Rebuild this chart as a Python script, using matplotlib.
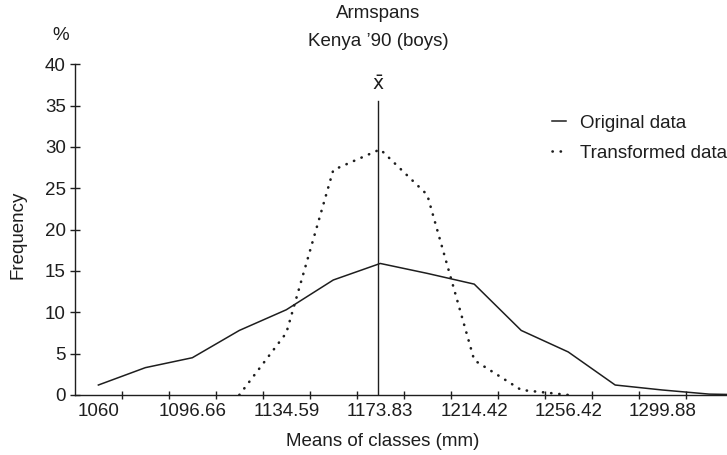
import numpy as np
import matplotlib
matplotlib.use("Agg")
from matplotlib import pyplot as plt

# class means (mm), every second class is labelled
tick_labels = ["1060", "1096.66", "1134.59", "1173.83", "1214.42", "1256.42", "1299.88"]

# frequency (%) per class
original = [1.2, 3.3, 4.5, 7.8, 10.3, 13.9, 15.9, 14.7, 13.4, 7.8, 5.2, 1.2, 0.6, 0.1, 0.0]
transformed_start = 3
transformed = [0.0, 7.5, 27.2, 29.7, 24.2, 4.2, 0.6, 0.0]

mean_class = 5.95
mean_top = 35.6

INK = "#1e1e1e"
FS = 13.5
plt.rcParams["font.family"] = ["Liberation Sans", "DejaVu Sans"]
plt.rcParams["font.size"] = FS

fig = plt.figure(figsize=(7.27, 4.55), dpi=100)
ax = fig.add_axes([0.103, 0.132, 0.897, 0.727])

xo = np.arange(len(original))
xt = np.arange(len(transformed)) + transformed_start

ax.plot(xo, original, color=INK, lw=1.1, label="Original data")
ax.plot(xt, transformed, color=INK, lw=1.9, linestyle=(0, (0.1, 3.0)),
		dash_capstyle="round", label="Transformed data")

# mean line
ax.plot([mean_class, mean_class], [0, mean_top], color=INK, lw=1.0)
ax.text(mean_class, mean_top + 0.8, r"$\bar{\mathrm{x}}$", ha="center", va="bottom",
		fontsize=FS, color=INK)

ax.set_xlim(-0.5, 13.38)
ax.set_ylim(0, 40)

# labels at class means, tick marks at class boundaries
ax.set_xticks(np.arange(0, 2 * len(tick_labels), 2))
ax.set_xticklabels(tick_labels)
ax.set_xticks(np.arange(0.5, 13, 1), minor=True)
ax.tick_params(axis="x", which="major", length=0, pad=6, colors=INK, labelsize=FS)
ax.tick_params(axis="x", which="minor", length=6, direction="inout", width=1.0, colors=INK)
ax.set_yticks(np.arange(0, 41, 5))
ax.tick_params(axis="y", length=7, direction="inout", width=1.0, colors=INK, labelsize=FS, pad=3)

for s in ["top", "right"]:
	ax.spines[s].set_visible(False)
for s in ["left", "bottom"]:
	ax.spines[s].set_color(INK)
	ax.spines[s].set_linewidth(1.0)

fig.text(378 / 727, 1 - 13 / 455, "Armspans", ha="center", va="center", fontsize=FS, color=INK)
fig.text(378 / 727, 1 - 42 / 455, "Kenya \u201990 (boys)", ha="center", va="center", fontsize=FS, color=INK)
fig.text(61 / 727, 1 - 35 / 455, "%", ha="center", va="center", fontsize=FS, color=INK)
fig.text(18 / 727, 1 - 235 / 455, "Frequency", rotation=90, ha="center", va="center",
		 fontsize=FS, color=INK)
fig.text(383 / 727, 1 - 441 / 455, "Means of classes (mm)", ha="center", va="center",
		 fontsize=FS, color=INK)

ax.legend(loc="upper left", bbox_to_anchor=(0.732, 0.848), frameon=False, handlelength=0.75,
		  handletextpad=0.75, labelspacing=0.7, borderpad=0, borderaxespad=0,
		  fontsize=FS, labelcolor=INK)

fig.savefig("out.png", dpi=100, facecolor="white")
